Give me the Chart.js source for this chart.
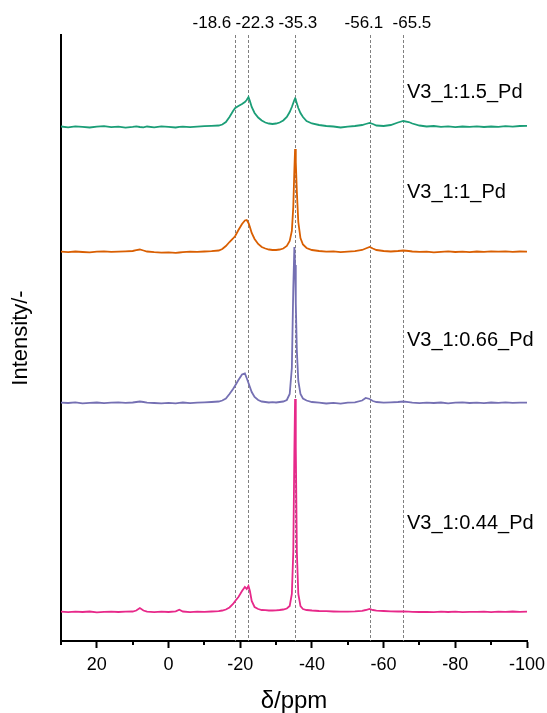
<!DOCTYPE html>
<html>
<head>
<meta charset="utf-8">
<script src="https://cdn.jsdelivr.net/npm/chart.js@4.4.1/dist/chart.umd.min.js"></script>
<style>
  html, body { margin: 0; padding: 0; background: #fff; }
</style>
</head>
<body>
<canvas id="nmr" width="547" height="713"></canvas>
<script>
// chemical shift grid (ppm), shared by all four spectra
const ppm = [
  30, 28, 26, 24, 22, 20, 18, 16, 14, 12, 10, 9, 8, 7, 6, 4, 2, 0, -2, -3,
  -4, -6, -8, -10, -12, -14, -15, -16, -17, -18, -18.6, -19.5, -20.5, -21.3, -21.8, -22.3, -22.7, -23.2, -24, -25,
  -26, -27, -28, -29, -30, -31, -32, -33, -33.8, -34.4, -34.8, -35.1, -35.3, -35.5, -35.8, -36.2, -36.8, -37.5, -38.5, -40,
  -42, -44, -46, -48, -50, -52, -54, -55, -56.1, -57, -58, -60, -62, -64, -65.5, -67, -68, -70, -72, -74,
  -76, -78, -80, -82, -84, -86, -88, -90, -92, -94, -96, -98, -100
];

const seriesNames = ["V3_1:1.5_Pd", "V3_1:1_Pd", "V3_1:0.66_Pd", "V3_1:0.44_Pd"];

// intensities above each baseline (arbitrary units)
const pd150 = [
  0.5, -0.3, 0.6, 0.1, -0.5, 0.4, 0.8, -0.2, 0.3, -0.6, 0.2, 0.7, 0, -0.4, 0.5, -0.3, 0.6, 0.2, -0.5, 0.1,
  0.4, -0.2, 0.3, 0.8, 1.2, 1.5, 2.5, 5, 10, 16, 19, 21, 23, 25, 27, 30, 26, 20, 14, 9.5,
  6.5, 4.5, 3.5, 3, 3.5, 4.5, 6.5, 10, 15, 20, 24, 27, 28.5, 27, 23.5, 19, 14, 10, 6, 3.5,
  2, 1, 0.5, -0.5, 0.3, 1, 2, 3, 4, 3, 1.5, 1, 2, 4.5, 6, 5, 3.5, 1.5, 0.5, 1,
  0.2, 0.6, -0.2, 0.5, 0.1, 0.7, 0, 0.5, 0.2, 0.8, 0.4, 1, 1.2
];
const pd100 = [
  0.3, -0.2, 0.5, 0, -0.4, 0.3, 0.6, 0.1, 0.4, 0.7, 1, 1.8, 2.5, 1.5, 0.5, -0.2, -0.6, -0.3, -0.8, -0.5,
  -0.2, 0.3, 0.1, 0.5, 0.9, 1.5, 3, 6, 10, 13.5, 16, 22, 28, 31.5, 32, 29, 25, 19, 13, 8,
  5, 3.5, 2.5, 2, 2, 2.5, 3.5, 6, 11, 21, 45, 82, 103, 90, 60, 30, 14, 7.5, 4, 2,
  1, 0.3, 0.6, -0.2, 0.4, 0.8, 2, 3.5, 5, 3.5, 2, 1, 0.5, 1, 1.5, 1, 0.5, 0.2, 0.4, -0.3,
  0.2, 0.6, 0, 0.4, -0.2, 0.5, 0.1, 0.6, 0.3, 0.7, 0.2, 0.5, 0.4
];
const pd066 = [
  0.4, 0, 0.6, -0.3, 0.2, 0.5, -0.2, 0.3, 0.7, 0.2, 0.5, 1, 1.5, 1, 0.4, 0, -0.4, 0.2, -0.3, 0.1,
  0.5, -0.1, 0.3, 0.6, 1, 1.5, 2.5, 4.5, 9, 14, 17.5, 23, 28.5, 29.5, 25, 20, 16, 11, 6, 3,
  1.5, 1, 0.5, 0.8, 0.5, 1, 1.5, 3, 9, 35, 115, 156, 138, 100, 52, 22, 9, 4.5, 2.5, 1,
  0.3, -0.5, 0.2, -0.6, 0.4, 0.6, 2.5, 5, 4, 2, 1, 0.3, 0.6, 1, 1.5, 0.8, 0.3, -0.2, 0.4, 0,
  0.5, -0.3, 0.3, 0.6, 0, 0.4, -0.2, 0.5, 0.2, 0.6, 0.1, 0.4, 0.3
];
const pd044 = [
  0.3, -0.2, 0.4, 0, 0.5, -0.3, 0.2, 0.4, 0, 0.3, 0.5, 1.5, 4, 1.5, 0.3, -0.2, 0.3, 0, 0.6, 2.2,
  0.5, -0.2, 0.3, 0.1, 0.5, 0.8, 1.5, 2.5, 4.5, 8, 11, 15, 21, 25, 23, 26, 21, 11, 5, 3,
  2, 1.8, 1.5, 1.5, 1.6, 2, 2.5, 3.5, 6, 18, 60, 160, 213, 165, 60, 18, 6, 3, 2, 1.5,
  1, 0.8, 0.5, 0.3, 0.4, 0.6, 1.2, 2, 3, 2, 1.4, 1, 0.6, 0.5, 0.7, 0.4, 0.2, 0, 0.2, -0.1,
  0.3, 0, 0.4, -0.2, 0.2, 0.1, 0.4, -0.1, 0.3, 0.2, 0.5, 0.1, 0.3
];

// vertical stacking offsets
const offsets = [514, 389, 238, 29];
const colors = ["#1b9e77", "#d95f02", "#7570b3", "#e7298a"];

// marked shifts and where their labels sit
const refLines = [-18.6, -22.3, -35.3, -56.1, -65.5];
const refLabelAt = [-12.1, -24.1, -36.1, -54.5, -67.9];

const xMajor = [20, 0, -20, -40, -60, -80, -100];
const xMinor = [30, 10, -10, -30, -50, -70, -90];

// name label anchors (ppm, y in chart units)
const nameX = -66.5;
const nameY = [549, 449, 301, 118];

const FONT = "'Liberation Sans', Arial, sans-serif";

const datasets = [pd150, pd100, pd066, pd044].map((vals, i) => ({
  label: seriesNames[i],
  data: ppm.map((p, j) => ({ x: p, y: offsets[i] + vals[j] })),
  borderColor: colors[i],
  borderWidth: 1.8,
  pointRadius: 0,
  tension: 0,
  fill: false,
}));

const annotate = {
  id: "annotate",
  beforeDatasetsDraw(chart) {
    const { ctx, chartArea, scales } = chart;
    ctx.save();
    ctx.strokeStyle = "#808080";
    ctx.lineWidth = 1;
    ctx.setLineDash([3, 2]);
    refLines.forEach((v) => {
      const x = Math.round(scales.x.getPixelForValue(v)) + 0.5;
      ctx.beginPath();
      ctx.moveTo(x, chartArea.top);
      ctx.lineTo(x, chartArea.bottom);
      ctx.stroke();
    });
    ctx.restore();
  },
  afterDraw(chart) {
    const { ctx, chartArea, scales } = chart;
    ctx.save();
    // minor ticks
    ctx.strokeStyle = "#000";
    ctx.lineWidth = 2;
    xMinor.forEach((v) => {
      const x = Math.round(scales.x.getPixelForValue(v));
      ctx.beginPath();
      ctx.moveTo(x, chartArea.bottom);
      ctx.lineTo(x, chartArea.bottom + 4);
      ctx.stroke();
    });
    // shift labels on top
    ctx.fillStyle = "#000";
    ctx.textAlign = "center";
    ctx.textBaseline = "middle";
    ctx.font = "17px " + FONT;
    refLines.forEach((v, i) => {
      ctx.fillText(v.toFixed(1), scales.x.getPixelForValue(refLabelAt[i]), 23);
    });
    // sample names
    ctx.textAlign = "left";
    ctx.font = "20px " + FONT;
    seriesNames.forEach((name, i) => {
      ctx.fillText(name, scales.x.getPixelForValue(nameX), scales.y.getPixelForValue(nameY[i]));
    });
    ctx.restore();
  },
};

new Chart(document.getElementById("nmr"), {
  type: "line",
  data: { datasets: datasets },
  plugins: [annotate],
  options: {
    responsive: false,
    animation: false,
    layout: { padding: { top: 35, right: 20, left: 0, bottom: 0 } },
    plugins: { legend: { display: false }, tooltip: { enabled: false } },
    scales: {
      x: {
        type: "linear",
        reverse: true,
        min: -100,
        max: 30,
        afterBuildTicks: (scale) => {
          scale.ticks = xMajor.map((v) => ({ value: v }));
        },
        afterFit: (scale) => {
          scale.height = 72;
          scale.paddingLeft = 0;
          scale.paddingRight = 0;
        },
        border: { display: true, color: "#000", width: 2 },
        grid: { drawOnChartArea: false, drawTicks: true, tickLength: 7, tickWidth: 2, tickColor: "#000" },
        ticks: { color: "#000", padding: 6, maxRotation: 0, font: { family: FONT, size: 18, lineHeight: 1.2 } },
        title: {
          display: true,
          text: "δ/ppm",
          color: "#000",
          padding: { top: 0, bottom: 0 },
          font: { family: FONT, size: 24, lineHeight: 1 },
        },
      },
      y: {
        type: "linear",
        min: 0,
        max: 606,
        border: { display: true, color: "#000", width: 2 },
        grid: { display: false, drawTicks: false },
        ticks: { display: false },
        title: {
          display: true,
          text: "Intensity/-",
          color: "#000",
          padding: { top: 8.35, bottom: 27.35 },
          font: { family: FONT, size: 22, lineHeight: 1.15 },
        },
      },
    },
  },
});
</script>
</body>
</html>
